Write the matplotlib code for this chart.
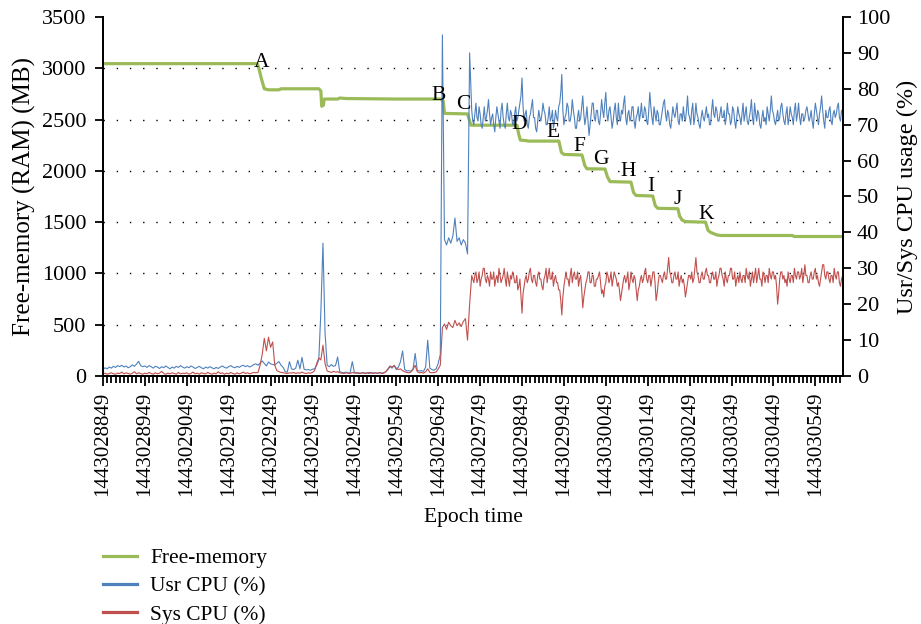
import numpy as np
import matplotlib
matplotlib.use("Agg")
import matplotlib.pyplot as plt
from matplotlib.lines import Line2D
from matplotlib.ticker import MultipleLocator, FixedLocator, FuncFormatter

plt.rcParams['font.family'] = ['Liberation Serif', 'DejaVu Serif']

# epoch start and sampling
t_start = 1443028849
t_span = 1766
idle_step = 5      # s, samples 0..875
load_start = 880   # s
load_step = 2.5    # s, samples from 880 on

# free memory (MB), vertices (seconds after t_start, MB)
mem_t = [0, 368, 372, 378, 385, 395, 420, 425, 515, 520, 522, 526, 528, 560, 565,
         580, 700, 805, 812, 815, 870, 874, 878, 988, 992, 996, 1010, 1015, 1088,
         1094, 1100, 1143, 1150, 1155, 1198, 1204, 1210, 1260, 1266, 1272, 1312,
         1318, 1324, 1372, 1376, 1382, 1390, 1438, 1444, 1450, 1465, 1475, 1645,
         1650, 1765]
mem_mb = [3045, 3045, 3000, 2900, 2800, 2790, 2790, 2800, 2800, 2780, 2630, 2640,
          2700, 2700, 2710, 2705, 2700, 2700, 2680, 2560, 2555, 2500, 2445, 2445,
          2360, 2300, 2295, 2290, 2290, 2180, 2160, 2155, 2050, 2020, 2018, 1940,
          1895, 1890, 1790, 1760, 1755, 1660, 1635, 1631, 1560, 1520, 1505, 1500,
          1420, 1400, 1375, 1370, 1370, 1360, 1360]

# event markers A..K (seconds after t_start, MB)
evt_names = ['A', 'B', 'C', 'D', 'E', 'F', 'G', 'H', 'I', 'J', 'K']
evt_t = [379, 800, 859, 993, 1074, 1136, 1189, 1253, 1308, 1372, 1439]
evt_mb = [3061, 2730, 2642, 2447, 2369, 2242, 2106, 1998, 1843, 1716, 1570]

# user CPU (%) before C, one value every 5 s
usr_idle = [
    1.8, 2.3, 2.0, 2.5, 2.2, 2.7, 2.4, 2.9, 2.6, 3.0,
    2.5, 2.8, 2.3, 2.6, 3.1, 2.7, 3.3, 4.1, 2.9, 2.6,
    2.8, 2.4, 2.9, 2.6, 2.2, 2.7, 2.5, 2.1, 2.6, 2.3,
    2.8, 2.4, 2.0, 2.5, 2.2, 2.7, 2.4, 2.9, 2.5, 2.2,
    2.6, 2.3, 2.8, 2.5, 2.1, 2.4, 2.7, 2.3, 2.0, 2.5,
    2.2, 2.6, 2.3, 2.0, 2.4, 2.1, 2.5, 2.8, 2.4, 2.2,
    2.6, 2.9, 2.5, 2.3, 2.7, 2.4, 2.8, 3.0, 2.6, 2.9,
    2.5, 2.8, 3.2, 3.4,
    # A
    3.0, 3.6, 4.2, 3.5, 2.8, 3.9, 3.4, 3.2,
    # A..B
    3.1, 3.6, 4.0, 3.0, 2.4, 1.2, 1.1, 4.0, 2.0, 1.8,
    2.2, 4.4, 2.0, 5.2, 1.9, 1.7, 1.8, 1.6, 1.9, 2.0,
    3.0, 4.5, 18.0, 37.0, 12.0, 3.0, 2.6, 3.2, 2.7, 2.9,
    5.3, 1.2, 1.0, 0.9, 1.1, 0.8, 1.0, 4.0, 1.0, 0.8,
    0.9, 0.7, 1.0, 0.8, 0.9, 0.7, 1.0, 0.8, 0.9, 0.7,
    1.0, 0.8, 0.9, 1.2, 1.8, 2.6, 2.2, 3.0, 1.8, 2.5,
    4.0, 7.0, 1.8, 1.4, 1.5, 1.3, 2.0, 6.3, 1.6, 1.4,
    1.5, 1.3, 2.5, 10.0, 2.2, 1.8, 1.6, 2.0, 3.5, 6.0,
    # B..C
    95.0, 38.0, 36.5, 38.5, 37.0, 39.0, 44.0, 37.5, 38.5, 36.5,
    38.0, 37.0, 34.0, 90.0,
]

# system CPU (%) before C, one value every 5 s
sys_idle = [
    0.6, 0.8, 0.5, 0.7, 0.9, 0.6, 0.5, 0.8, 0.7, 1.1,
    0.6, 0.9, 0.7, 0.5, 0.8, 1.2, 0.6, 0.9, 0.7, 0.5,
    0.8, 0.6, 1.0, 0.7, 0.5, 0.9, 0.6, 0.8, 1.3, 0.7,
    0.5, 0.8, 0.6, 0.9, 0.7, 0.5, 1.0, 0.6, 0.8, 0.7,
    0.9, 0.5, 0.7, 1.1, 0.6, 0.8, 0.5, 0.9, 0.7, 0.6,
    1.0, 0.7, 0.5, 0.8, 0.6, 1.2, 0.7, 0.9, 0.5, 0.8,
    0.6, 1.0, 0.7, 0.5, 0.9, 0.6, 0.8, 1.1, 0.7, 0.9,
    0.6, 0.8, 1.0, 0.9,
    1.0, 3.0, 6.0, 10.5, 7.0, 10.8, 8.0, 9.5,
    3.0, 1.5, 1.2, 1.0, 0.9, 0.8, 0.7, 0.9, 0.8, 1.0,
    0.7, 0.9, 0.8, 1.1, 0.8, 0.7, 0.9, 0.8, 1.0, 1.5,
    3.5, 5.0, 4.5, 8.6, 3.5, 1.4, 1.2, 1.0, 1.3, 1.1,
    1.2, 0.9, 0.8, 0.7, 0.9, 0.8, 0.7, 1.0, 0.8, 0.9,
    0.7, 0.8, 0.9, 0.7, 0.8, 1.0, 0.8, 0.7, 0.9, 0.8,
    0.9, 0.7, 0.8, 1.2, 2.0, 2.8, 2.5, 2.9, 2.2, 1.8,
    2.0, 1.5, 1.2, 1.0, 0.9, 1.1, 1.8, 3.0, 1.2, 0.9,
    1.0, 0.8, 1.2, 2.0, 1.0, 0.9, 1.0, 1.1, 2.0, 3.0,
    13.5, 14.5, 13.0, 15.0, 14.0, 13.5, 15.5, 14.0, 14.8, 13.8,
    15.2, 16.0, 10.0, 20.0,
]

# user CPU (%) after C, one value every 2.5 s
usr_load = [
    74, 71, 70, 73, 76, 72, 71, 75, 73, 70, 69, 72, 75, 71, 72, 74, 77, 73, 70, 72,
    73, 70, 68, 72, 75, 73, 71, 69, 74, 76, 72, 70, 69, 73, 76, 72, 71, 74, 73, 70,
    70, 73, 75, 71, 72, 74, 76, 78, 83, 75, 71, 73, 74, 70, 69, 72, 73, 75, 77, 72,
    72, 69, 68, 71, 74, 72, 71, 73, 76, 74, 73, 70, 70, 72, 75, 71, 72, 74, 69, 71,
    74, 72, 71, 75, 76, 79, 84, 74, 70, 72, 73, 76, 75, 71, 71, 73, 77, 74, 72, 69,
    69, 72, 74, 71, 72, 75, 78, 73, 70, 72, 75, 71, 67, 70, 73, 76, 76, 72, 71, 74,
    74, 71, 70, 73, 77, 74, 72, 76, 79, 73, 71, 74, 75, 72, 69, 71, 74, 76, 72, 70,
    76, 72, 71, 74, 73, 76, 78, 72, 70, 73, 74, 71, 72, 75, 75, 71, 69, 72, 73, 75,
    71, 73, 76, 72, 72, 75, 74, 71, 70, 74, 79, 75, 72, 70, 75, 73, 71, 74, 73, 70,
    70, 72, 74, 76, 77, 73, 71, 74, 73, 70, 69, 72, 75, 73, 72, 74, 76, 71, 70, 73,
    73, 71, 75, 72, 71, 74, 78, 73, 72, 70, 74, 76, 70, 72, 76, 73, 72, 70, 69, 72,
    74, 72, 71, 73, 75, 72, 73, 70, 70, 74, 77, 73, 72, 75, 74, 71, 71, 73, 75, 72,
    72, 74, 70, 72, 76, 73, 73, 70, 71, 75, 74, 71, 69, 72, 75, 73, 72, 70, 73, 76,
    71, 73, 75, 71, 70, 72, 74, 77, 72, 70, 76, 73, 71, 74, 73, 70, 69, 72, 74, 71,
    72, 70, 75, 73, 71, 74, 78, 74, 73, 71, 70, 72, 74, 71, 72, 75, 76, 73, 71, 70,
    73, 75, 70, 72, 75, 73, 72, 70, 74, 76, 71, 73, 76, 72, 70, 73, 73, 71, 72, 74,
    75, 73, 71, 72, 74, 71, 69, 73, 76, 74, 72, 70, 73, 75, 78, 74, 71, 69, 74, 72,
    72, 74, 75, 71, 70, 73, 74, 72, 73, 75, 76, 72, 71, 74, 73, 71,
]

# system CPU (%) after C, one value every 2.5 s
sys_load = [
    28, 27, 26, 28, 29, 26, 27, 29, 25, 27, 28, 30, 30, 27, 26, 28, 27, 25, 29, 27,
    27, 29, 25, 27, 28, 26, 30, 28, 26, 27, 28, 30, 27, 25, 29, 27, 25, 28, 27, 29,
    28, 26, 26, 28, 24, 25, 27, 22, 17.5, 23, 25, 27, 28, 26, 27, 29, 30, 27, 26, 28,
    28, 26, 25, 28, 29, 27, 27, 25, 24, 27, 28, 30, 26, 28, 30, 27, 27, 29, 25, 27,
    28, 26, 26, 24, 24, 21, 17, 22, 25, 27, 29, 27, 27, 25, 28, 30, 26, 28, 29, 27,
    27, 29, 25, 27, 28, 24, 19, 22, 24, 26, 27, 29, 29, 26, 26, 28, 28, 25, 25, 27,
    27, 28, 29, 26, 23, 24, 22, 25, 26, 29, 28, 26, 27, 29, 25, 27, 29, 28, 27, 25,
    26, 24, 21, 23, 25, 27, 28, 26, 27, 29, 24, 26, 29, 27, 26, 28, 27, 24, 21, 24,
    25, 27, 28, 26, 27, 29, 30, 27, 26, 28, 28, 25, 27, 29, 29, 26, 21, 23, 26, 28,
    28, 27, 26, 28, 29, 27, 27, 30, 33, 29, 28, 26, 26, 28, 29, 27, 27, 29, 25, 27,
    28, 26, 27, 25, 22, 24, 26, 28, 28, 27, 29, 26, 27, 30, 33, 29, 28, 26, 26, 28,
    29, 27, 27, 29, 30, 28, 28, 26, 26, 28, 29, 27, 27, 29, 25, 27, 28, 30, 30, 28,
    27, 25, 29, 27, 26, 28, 28, 30, 30, 27, 27, 29, 25, 27, 28, 26, 29, 27, 26, 28,
    28, 26, 30, 28, 27, 29, 25, 27, 29, 26, 28, 30, 26, 28, 30, 27, 27, 25, 29, 28,
    26, 28, 28, 26, 30, 28, 27, 29, 29, 27, 28, 25, 20, 23, 27, 29, 29, 27, 28, 26,
    27, 25, 29, 27, 26, 28, 28, 26, 30, 28, 27, 29, 29, 27, 28, 30, 26, 28, 31, 28,
    28, 26, 26, 28, 29, 27, 27, 29, 30, 27, 28, 26, 25, 27, 29, 31, 31, 28, 27, 29,
    29, 27, 26, 28, 28, 26, 30, 28, 27, 29, 29, 26, 25, 27, 28, 26,
]

GREEN = '#9BBB59'
BLUE = '#4F81BD'
RED = '#C0504D'

cpu_t = t_start + np.concatenate([idle_step * np.arange(len(usr_idle)),
                                  load_start + load_step * np.arange(len(usr_load))])
usr_cpu = np.array(usr_idle + usr_load)
sys_cpu = np.array(sys_idle + sys_load)
mem_x = t_start + np.array(mem_t)

fig = plt.figure(figsize=(9.21, 6.24), dpi=100)
ax = fig.add_axes([0.1118, 0.3974, 0.8035, 0.5754])
ax2 = ax.twinx()

ax.plot(mem_x, mem_mb, color=GREEN, lw=2.3, solid_joinstyle='round')
ax2.plot(cpu_t, usr_cpu, color=BLUE, lw=0.8)
ax2.plot(cpu_t, sys_cpu, color=RED, lw=0.8)

for name, tx, my in zip(evt_names, evt_t, evt_mb):
    ax2.text(t_start + tx, my, name, transform=ax.transData, fontsize=15.5,
             ha='center', va='center', zorder=10)

ax.set_xlim(t_start, t_start + t_span)
ax.set_ylim(0, 3500)
ax2.set_ylim(0, 100)

ax.yaxis.set_major_locator(MultipleLocator(500))
ax2.yaxis.set_major_locator(MultipleLocator(10))
ax.xaxis.set_major_locator(FixedLocator(t_start + np.arange(0, 1800, 100)))
ax.xaxis.set_minor_locator(FixedLocator(t_start + np.arange(0, t_span, 10)))
ax.xaxis.set_major_formatter(FuncFormatter(lambda v, p: '%d' % round(v)))

for g in range(500, 3500, 500):
    ax.axhline(g, color='black', lw=1.0, ls=(0, (1, 8.5)), zorder=0)

for a in (ax, ax2):
    a.spines['top'].set_visible(False)
    for s in ('left', 'right', 'bottom'):
        a.spines[s].set_linewidth(1.3)
ax.tick_params(axis='y', labelsize=16, direction='out', width=1.3, length=6, pad=6)
ax.tick_params(axis='x', which='major', labelsize=15, direction='out', width=1.3,
               length=7, pad=4, labelrotation=90)
ax.tick_params(axis='x', which='minor', direction='out', length=5, width=1.3)
ax2.tick_params(axis='y', labelsize=16, direction='out', length=6, width=1.3, pad=4)

ax.set_xlabel('Epoch time', fontsize=15.5, labelpad=9)
ax.set_ylabel('Free-memory (RAM) (MB)', fontsize=18, labelpad=4)
ax2.set_ylabel('Usr/Sys CPU usage (%)', fontsize=17.5, labelpad=5)

handles = [Line2D([], [], color=GREEN, lw=2.3),
           Line2D([], [], color=BLUE, lw=2.3),
           Line2D([], [], color=RED, lw=2.3)]
fig.legend(handles, ['Free-memory', 'Usr CPU (%)', 'Sys CPU (%)'],
           loc='upper left', bbox_to_anchor=(0.112, 0.121),
           bbox_transform=fig.transFigure, frameon=False, fontsize=15.4,
           handlelength=1.6, handletextpad=0.6, labelspacing=0.38,
           borderaxespad=0, borderpad=0)

fig.savefig('out.png', dpi=100)
